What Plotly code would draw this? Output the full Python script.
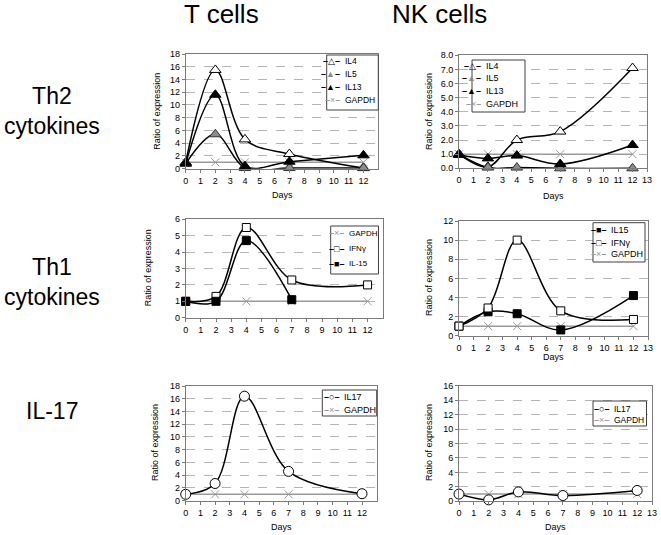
import plotly.graph_objects as go

# ---------------- data ----------------
days = [0, 2, 4, 7, 12]
days_t_il15 = [0, 2, 4, 7]

# Th2 cytokines - T cells
t_th2_il4 = [1.0, 15.5, 4.6, 2.3, 0.1]
t_th2_il5 = [0.8, 5.4, 0.1, 0.1, 0.1]
t_th2_il13 = [0.8, 11.6, 0.4, 1.1, 2.1]
t_th2_gapdh = [1.0, 1.0, 1.0, 1.0, 1.0]

# Th2 cytokines - NK cells
nk_th2_il4 = [1.0, 0.1, 2.0, 2.6, 7.1]
nk_th2_il5 = [1.0, 0.05, 0.05, 0.0, 0.0]
nk_th2_il13 = [0.95, 0.7, 0.9, 0.3, 1.65]
nk_th2_gapdh = [1.0, 1.0, 1.0, 1.0, 1.0]

# Th1 cytokines - T cells
t_th1_gapdh = [1.0, 1.0, 1.0, 1.0, 1.0]
t_th1_ifng = [1.0, 1.3, 5.5, 2.3, 2.0]
t_th1_il15 = [1.0, 1.0, 4.7, 1.1]

# Th1 cytokines - NK cells
nk_th1_il15 = [1.0, 2.5, 2.3, 0.6, 4.2]
nk_th1_ifng = [1.0, 2.9, 10.0, 2.6, 1.7]
nk_th1_gapdh = [1.0, 1.0, 1.0, 1.0, 1.0]

# IL-17
t_il17 = [1.0, 2.7, 16.4, 4.6, 1.1]
t_il17_gapdh = [1.0, 1.0, 1.0, 1.0, 1.0]
nk_il17 = [1.0, 0.2, 1.3, 0.8, 1.5]
nk_il17_gapdh = [1.0, 1.0, 1.0, 1.0, 1.0]

x_ticks_left = list(range(0, 13))
x_ticks_right = list(range(0, 14))

# ---------------- styles ----------------
FONT = "Liberation Sans, Arial, Helvetica, sans-serif"
GREY = "#9a9a9a"
STY = {
    "tri_open": dict(symbol="triangle-up", color="white", line=dict(color="black", width=1), size=10),
    "tri_grey": dict(symbol="triangle-up", color="#8c8c8c", line=dict(color="#303030", width=1), size=10),
    "tri_black": dict(symbol="triangle-up", color="black", line=dict(color="black", width=1), size=10),
    "sq_open": dict(symbol="square", color="white", line=dict(color="black", width=1), size=8),
    "sq_black": dict(symbol="square", color="black", line=dict(color="black", width=1), size=8),
    "circ_open": dict(symbol="circle", color="white", line=dict(color="black", width=1), size=10),
    "x_grey": dict(symbol="x-thin-open", color=GREY, line=dict(color=GREY, width=1), size=8),
}
# legend key glyphs: (line colour, glyph, glyph colour)
KEY = {
    "tri_open": ("black", "△", "black"),
    "tri_grey": ("black", "▲", "#8c8c8c"),
    "tri_black": ("black", "▲", "black"),
    "sq_open": ("black", "□", "black"),
    "sq_black": ("black", "■", "black"),
    "circ_open": ("black", "○", "black"),
    "x_grey": (GREY, "×", GREY),
}

fig = go.Figure()


def add(x, y, name, style, idx):
    grey = style == "x_grey"
    fig.add_trace(go.Scatter(
        x=x, y=y, name=name, mode="lines+markers", showlegend=False,
        line=dict(color=GREY if grey else "black", width=1.5,
                  shape="linear" if grey else "spline", smoothing=1.0),
        marker=STY[style],
        xaxis="x" if idx == 1 else f"x{idx}",
        yaxis="y" if idx == 1 else f"y{idx}",
        cliponaxis=False,
    ))


# Panel 1: T cells Th2
add(days, t_th2_gapdh, "GAPDH", "x_grey", 1)
add(days, t_th2_il4, "IL4", "tri_open", 1)
add(days, t_th2_il5, "IL5", "tri_grey", 1)
add(days, t_th2_il13, "IL13", "tri_black", 1)
# Panel 2: NK cells Th2
add(days, nk_th2_gapdh, "GAPDH", "x_grey", 2)
add(days, nk_th2_il4, "IL4", "tri_open", 2)
add(days, nk_th2_il5, "IL5", "tri_grey", 2)
add(days, nk_th2_il13, "IL13", "tri_black", 2)
# Panel 3: T cells Th1
add(days, t_th1_gapdh, "GAPDH", "x_grey", 3)
add(days, t_th1_ifng, "IFNγ", "sq_open", 3)
add(days_t_il15, t_th1_il15, "IL-15", "sq_black", 3)
# Panel 4: NK cells Th1
add(days, nk_th1_gapdh, "GAPDH", "x_grey", 4)
add(days, nk_th1_il15, "IL15", "sq_black", 4)
add(days, nk_th1_ifng, "IFNγ", "sq_open", 4)
# Panel 5: T cells IL-17
add(days, t_il17_gapdh, "GAPDH", "x_grey", 5)
add(days, t_il17, "IL17", "circ_open", 5)
# Panel 6: NK cells IL-17
add(days, nk_il17_gapdh, "GAPDH", "x_grey", 6)
add(days, nk_il17, "IL17", "circ_open", 6)

W, H = 661, 535


def dx(a, b):
    return [a / W, b / W]


def dy(top, bot):
    return [1 - bot / H, 1 - top / H]


panels = {
    1: dict(xd=dx(185.7, 378.3), yd=dy(54, 168.7), yr=[0, 18], dt=2, fmt="", xt=x_ticks_left),
    2: dict(xd=dx(459, 647), yd=dy(55.3, 168.3), yr=[0, 8], dt=1, fmt=".1f", xt=x_ticks_right),
    3: dict(xd=dx(185.7, 382.7), yd=dy(219.3, 317.7), yr=[0, 6], dt=1, fmt="", xt=x_ticks_left),
    4: dict(xd=dx(459, 648), yd=dy(221, 335.7), yr=[0, 12], dt=2, fmt="", xt=x_ticks_right),
    5: dict(xd=dx(185.7, 376.7), yd=dy(386, 500.7), yr=[0, 18], dt=2, fmt="", xt=x_ticks_left),
    6: dict(xd=dx(459, 652), yd=dy(385.7, 501.3), yr=[0, 16], dt=2, fmt="", xt=x_ticks_right),
}

layout = dict(
    width=W, height=H, margin=dict(l=0, r=0, t=0, b=0, autoexpand=False),
    paper_bgcolor="white", plot_bgcolor="white", showlegend=False,
    font=dict(family=FONT, size=9, color="black"),
)
for i, p in panels.items():
    xs = "xaxis" if i == 1 else f"xaxis{i}"
    ys = "yaxis" if i == 1 else f"yaxis{i}"
    xa = "x" if i == 1 else f"x{i}"
    ya = "y" if i == 1 else f"y{i}"
    layout[xs] = dict(domain=p["xd"], anchor=ya, range=[0, 13], tickvals=p["xt"],
                      showgrid=False, zeroline=False, showline=True, mirror=True,
                      linecolor="#7a7a7a", linewidth=1, ticks="outside", ticklen=3,
                      tickcolor="#7a7a7a", tickfont=dict(size=9, family=FONT))
    layout[ys] = dict(domain=p["yd"], anchor=xa, range=p["yr"], dtick=p["dt"], tick0=0,
                      tickformat=p["fmt"], showgrid=True, gridcolor="#b5b5b5", griddash="dash",
                      gridwidth=1, zeroline=False, showline=True, mirror=True,
                      linecolor="#7a7a7a", linewidth=1, ticks="outside", ticklen=3,
                      tickcolor="#7a7a7a", tickfont=dict(size=9, family=FONT))

fig.update_layout(**layout)

ann = []
shapes = []

# legends: box (left, top, right, bottom), text x, row y's, font size, entries
legends = [
    ((326.7, 55, 378.3, 110), 343.0, [61, 74, 87, 100], 8.5,
     [("IL4", "tri_open"), ("IL5", "tri_grey"), ("IL13", "tri_black"), ("GAPDH", "x_grey")]),
    ((472, 60, 525, 112), 483.5, [66, 78.5, 91, 104], 9,
     [("IL4", "tri_open"), ("IL5", "tri_grey"), ("IL13", "tri_black"), ("GAPDH", "x_grey")]),
    ((330.7, 226, 378.5, 274), 346.5, [233, 248.5, 263.5], 8,
     [("GAPDH", "x_grey"), ("IFNγ", "sq_open"), ("IL-15", "sq_black")]),
    ((593, 222.7, 645, 262), 608.5, [230, 242.5, 254], 9,
     [("IL15", "sq_black"), ("IFNγ", "sq_open"), ("GAPDH", "x_grey")]),
    ((322.3, 390, 376.7, 416), 341.5, [397, 409.5], 9,
     [("IL17", "circ_open"), ("GAPDH", "x_grey")]),
    ((593, 401, 646.5, 426), 611.5, [408.5, 420], 8.5,
     [("IL17", "circ_open"), ("GAPDH", "x_grey")]),
]
for (l, t, r, b), tx, rows, fs, entries in legends:
    shapes.append(dict(type="rect", xref="paper", yref="paper",
                       x0=l / W, x1=r / W, y0=1 - b / H, y1=1 - t / H,
                       line=dict(color="#404040", width=1), fillcolor="white", layer="above"))
    for ry, (name, st) in zip(rows, entries):
        lc, g, gc = KEY[st]
        sym = (f"<span style='color:{lc}'><b>–</b></span><span style='color:{gc}'>{g}</span>"
               f"<span style='color:{lc}'><b>–</b></span>")
        ann.append(dict(text=sym, x=(tx - 0.5) / W, y=1 - ry / H, xanchor="right",
                        yanchor="middle", font=dict(size=9)))
        ann.append(dict(text=name, x=tx / W, y=1 - ry / H, xanchor="left",
                        yanchor="middle", font=dict(size=fs)))

# column titles
ann.append(dict(text="T cells", x=221.7 / W, y=1 - 14 / H, font=dict(size=26)))
ann.append(dict(text="NK cells", x=439 / W, y=1 - 14 / H, font=dict(size=26)))
# row labels
ann.append(dict(text="Th2<br>cytokines", x=52 / W, y=1 - 111 / H, font=dict(size=23)))
ann.append(dict(text="Th1<br>cytokines", x=52 / W, y=1 - 282 / H, font=dict(size=23)))
ann.append(dict(text="IL-17", x=52 / W, y=1 - 411 / H, font=dict(size=23)))
# y axis titles
for (ax, ay) in [(156.7, 111), (429, 112), (148.3, 268), (429, 278), (155, 443), (429, 443)]:
    ann.append(dict(text="Ratio of expression", x=ax / W, y=1 - ay / H, textangle=-90,
                    font=dict(size=9)))
# x axis titles
for (ax, ay) in [(282, 195), (553, 196), (553, 357), (281, 527), (555, 527)]:
    ann.append(dict(text="Days", x=ax / W, y=1 - ay / H, font=dict(size=9)))

for a in ann:
    a.setdefault("xanchor", "center")
    a.setdefault("yanchor", "middle")
    a.update(xref="paper", yref="paper", showarrow=False)
    a["font"] = dict(family=FONT, color="black", size=a["font"]["size"])
fig.update_layout(annotations=ann, shapes=shapes)

# remove the browser's default 8px page margin so the figure fills the window
fig.write_html("out.html", config={"displayModeBar": False},
               post_script="document.body.style.margin='0';document.body.style.overflow='hidden';")
